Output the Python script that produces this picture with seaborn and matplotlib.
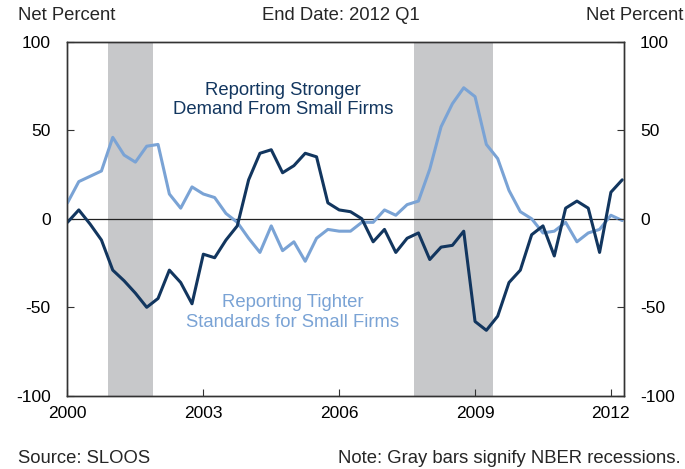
import numpy as np
import pandas as pd
import matplotlib.pyplot as plt
import seaborn as sns

# quarterly survey data, 1999 Q4 .. 2012 Q1 (plotted at quarter end)
quarters = pd.period_range('1999Q4', '2012Q1', freq='Q')

demand = [-2, 5, -3, -12, -29, -35, -42, -50, -45, -29,
          -36, -48, -20, -22, -12, -4, 22, 37, 39, 26,
          30, 37, 35, 9, 5, 4, 0, -13, -6, -19,
          -11, -8, -23, -16, -15, -7, -58, -63, -55, -36,
          -29, -9, -4, -21, 6, 10, 6, -19, 15, 22]

standards = [9, 21, 24, 27, 46, 36, 32, 41, 42, 14,
             6, 18, 14, 12, 3, -2, -11, -19, -4, -18,
             -13, -24, -11, -6, -7, -7, -2, -2, 5, 2,
             8, 10, 28, 52, 65, 74, 69, 42, 34, 16,
             4, 0, -8, -7, -2, -13, -8, -6, 2, -1]

# NBER recessions (as drawn on the chart, in years)
recessions = [(2000.89, 2001.89), (2007.65, 2009.39)]

year_ticks = [2000, 2003, 2006, 2009, 2012]
pct_ticks = [-100, -50, 0, 50, 100]

dark = '#12365f'
light = '#7aa3d5'

df = pd.DataFrame({
    'x': quarters.year + quarters.quarter / 4,
    'demand': demand,
    'standards': standards,
})

sns.set_style('ticks')
plt.rcParams['font.family'] = ['Liberation Sans', 'DejaVu Sans']
plt.rcParams['axes.unicode_minus'] = False

fig = plt.figure(figsize=(6.85, 4.69), dpi=100)
ax = fig.add_axes([0.0985, 0.156, 0.8125, 0.755])

for start, end in recessions:
    ax.axvspan(start, end, color='#c7c8ca', lw=0, zorder=0)
ax.axhline(0, color='#222222', lw=0.9, zorder=1)

sns.lineplot(data=df, x='x', y='standards', color=light, lw=2.2, ax=ax, zorder=3)
sns.lineplot(data=df, x='x', y='demand', color=dark, lw=2.2, ax=ax, zorder=4)

ax.set_xlim(2000, 2012.29)
ax.set_ylim(-100, 100)
ax.set_xticks(year_ticks)
ax.set_yticks(pct_ticks)
ax.set_xlabel('')
ax.set_ylabel('')
ax.tick_params(direction='in', length=5, width=0.8, colors='#333333',
               labelcolor='black', labelsize=12.5)
ax.tick_params(axis='y', pad=12)
ax.tick_params(axis='x', pad=7)
for s in ax.spines.values():
    s.set_color('#333333')
    s.set_linewidth(1.0)

ax2 = ax.twinx()
ax2.set_ylim(-100, 100)
ax2.set_yticks(pct_ticks)
ax2.tick_params(direction='in', length=5, width=0.8, colors='#333333',
                labelcolor='black', labelsize=12.5, pad=11.5)
for s in ax2.spines.values():
    s.set_color('#333333')
    s.set_linewidth(1.0)

ax.text(2004.76, 67, 'Reporting Stronger\nDemand From Small Firms', color=dark,
        fontsize=13.3, ha='center', va='center', linespacing=1.2)
ax.text(2004.98, -53, 'Reporting Tighter\nStandards for Small Firms', color=light,
        fontsize=13.3, ha='center', va='center', linespacing=1.2)

fs = 13.3
fig.text(0.026, 0.967, 'Net Percent', fontsize=fs, ha='left', va='center')
fig.text(0.997, 0.967, 'Net Percent', fontsize=fs, ha='right', va='center')
fig.text(0.497, 0.967, 'End Date: 2012 Q1', fontsize=fs, ha='center', va='center')
fig.text(0.026, 0.022, 'Source: SLOOS', fontsize=fs, ha='left', va='center')
fig.text(0.993, 0.022, 'Note: Gray bars signify NBER recessions.', fontsize=fs,
         ha='right', va='center')

fig.savefig('out.png', dpi=100)
